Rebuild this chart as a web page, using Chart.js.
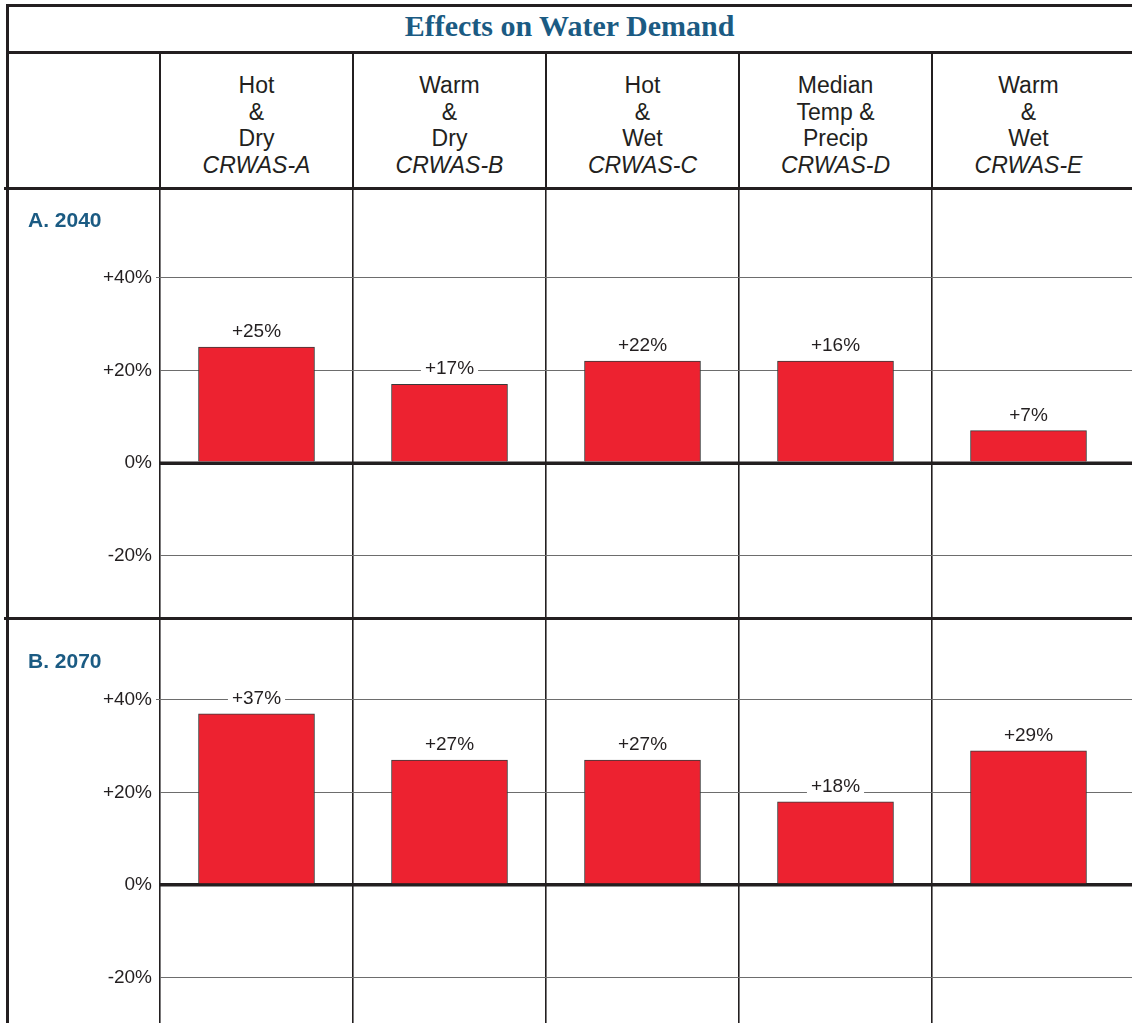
<!DOCTYPE html>
<html>
<head>
<meta charset="utf-8">
<title>Effects on Water Demand</title>
<script src="https://cdn.jsdelivr.net/npm/chart.js@4.4.1/dist/chart.umd.min.js"></script>
<style>
  body { margin: 0; background: #fff; }
  #page { position: relative; width: 1132px; height: 1023px; overflow: hidden;
          font-family: "Liberation Sans", Arial, sans-serif; color: #231f20; }
  canvas { position: absolute; left: 0; }
  .rule { position: absolute; background: #231f20; }
  #title { position: absolute; left: 7px; right: 0; top: 11px; text-align: center;
           font: bold 30px/30px "Liberation Serif", "Times New Roman", serif; color: #1b5b83; }
  .head { position: absolute; top: 72px; width: 193px; text-align: center;
          font-size: 23px; line-height: 26.7px; }
  .panel { position: absolute; left: 28px; font: bold 21px/21px "Liberation Sans", Arial, sans-serif;
           color: #1b5b83; }
</style>
</head>
<body>
<div id="page">
  <canvas id="chartA" width="1132" height="430" style="top:189px"></canvas>
  <canvas id="chartB" width="1132" height="404" style="top:619px"></canvas>

  <div id="title">Effects on Water Demand</div>
  <div id="heads"></div>
  <div class="panel" style="top:209px">A. 2040</div>
  <div class="panel" style="top:650px">B. 2070</div>

  <!-- frame lines -->
  <div class="rule" style="left:6px;top:4px;width:1126px;height:3px"></div>
  <div class="rule" style="left:6px;top:4px;width:3px;height:1019px"></div>
  <div class="rule" style="left:6px;top:51px;width:1126px;height:3px"></div>
  <div class="rule" style="left:4px;top:187px;width:1128px;height:3px"></div>
  <div class="rule" style="left:4px;top:617px;width:1128px;height:3px"></div>
</div>

<script>
// scenarios (column headers)
const scenarioLines = [
  ['Hot', '&', 'Dry'],
  ['Warm', '&', 'Dry'],
  ['Hot', '&', 'Wet'],
  ['Median', 'Temp &', 'Precip'],
  ['Warm', '&', 'Wet']
];
const scenarioCodes = ['CRWAS-A', 'CRWAS-B', 'CRWAS-C', 'CRWAS-D', 'CRWAS-E'];

// bar heights as drawn, and the printed labels
// (CRWAS-D 2040 is drawn at ~22% although it is labelled +16%)
const values2040 = [25, 17, 22, 22, 7];
const tags2040 = ['+25%', '+17%', '+22%', '+16%', '+7%'];
const values2070 = [37, 27, 27, 18, 29];
const tags2070 = ['+37%', '+27%', '+27%', '+18%', '+29%'];

const yTicks = [-20, 0, 20, 40];
const dividers = [-0.5, 0.5, 1.5, 2.5, 3.5];

const colWidth = 193;
const plotLeft = 160;
const fontFamily = '"Liberation Sans", Arial, sans-serif';
const ink = '#231f20';

// header row
const heads = document.getElementById('heads');
scenarioLines.forEach((lines, i) => {
  const div = document.createElement('div');
  div.className = 'head';
  div.style.left = (plotLeft + colWidth * i) + 'px';
  div.innerHTML = lines.join('<br>') + '<br><i>' + scenarioCodes[i] + '</i>';
  heads.appendChild(div);
});
dividers.forEach((d, i) => {
  const line = document.createElement('div');
  line.className = 'rule';
  line.style.left = (plotLeft + colWidth * i - 1) + 'px';
  line.style.top = '53px';
  line.style.width = '2px';
  line.style.height = '135px';
  heads.appendChild(line);
});

// value tags with white backing + heavy zero line over the bars
const barTags = {
  id: 'barTags',
  afterDatasetsDraw(chart, args, opts) {
    const ctx = chart.ctx;
    const { left, right } = chart.chartArea;
    const y0 = chart.scales.y.getPixelForValue(0);
    ctx.save();
    ctx.strokeStyle = ink;
    ctx.lineWidth = 3;
    ctx.beginPath();
    ctx.moveTo(left, y0);
    ctx.lineTo(right, y0);
    ctx.stroke();

    ctx.font = '19px ' + fontFamily;
    ctx.textAlign = 'center';
    ctx.textBaseline = 'middle';
    chart.getDatasetMeta(0).data.forEach((bar, i) => {
      const text = opts.tags[i];
      const w = ctx.measureText(text).width + 8;
      const ty = bar.y - 15;
      ctx.fillStyle = '#fff';
      ctx.fillRect(bar.x - w / 2, ty - 8, w, 16);
      ctx.fillStyle = ink;
      ctx.fillText(text, bar.x, ty);
    });
    ctx.restore();
  }
};

function makePanel(id, values, tags, yMin, yMax) {
  const xMax = -0.5 + (1132 - plotLeft) / colWidth;
  return new Chart(document.getElementById(id), {
    type: 'bar',
    data: {
      datasets: [{
        data: values.map((v, i) => ({ x: i, y: v })),
        backgroundColor: '#ed2230',
        borderColor: '#3a3a3a',
        borderWidth: 1,
        barThickness: 116
      }]
    },
    options: {
      responsive: false,
      animation: false,
      layout: { padding: 0 },
      plugins: {
        legend: { display: false },
        tooltip: { enabled: false },
        barTags: { tags: tags }
      },
      scales: {
        x: {
          type: 'linear',
          min: -0.5,
          max: xMax,
          offset: false,
          grid: { offset: false, color: ink, lineWidth: 1.6, drawTicks: false },
          border: { display: false },
          ticks: { display: false },
          afterBuildTicks: s => { s.ticks = dividers.map(v => ({ value: v })); },
          afterFit: s => { s.height = 0; s.paddingLeft = 0; s.paddingRight = 0; }
        },
        y: {
          min: yMin,
          max: yMax,
          grid: {
            color: c => c.tick && c.tick.value === 0 ? ink : '#6d6d6d',
            lineWidth: c => c.tick && c.tick.value === 0 ? 3 : 1,
            tickLength: 4,
            tickColor: c => c.tick && c.tick.value === 40 ? '#6d6d6d' : 'rgba(0,0,0,0)'
          },
          border: { display: false },
          ticks: {
            padding: 4,
            color: ink,
            font: { size: 19, family: fontFamily },
            callback: v => (v > 0 ? '+' : '') + v + '%'
          },
          afterBuildTicks: s => { s.ticks = yTicks.map(v => ({ value: v })); },
          afterFit: s => { s.width = plotLeft; s.paddingTop = 0; s.paddingBottom = 0; }
        }
      }
    },
    plugins: [barTags]
  });
}

makePanel('chartA', values2040, tags2040, -33.67, 59.14);
makePanel('chartB', values2070, tags2070, -29.84, 57.51);
</script>
</body>
</html>
